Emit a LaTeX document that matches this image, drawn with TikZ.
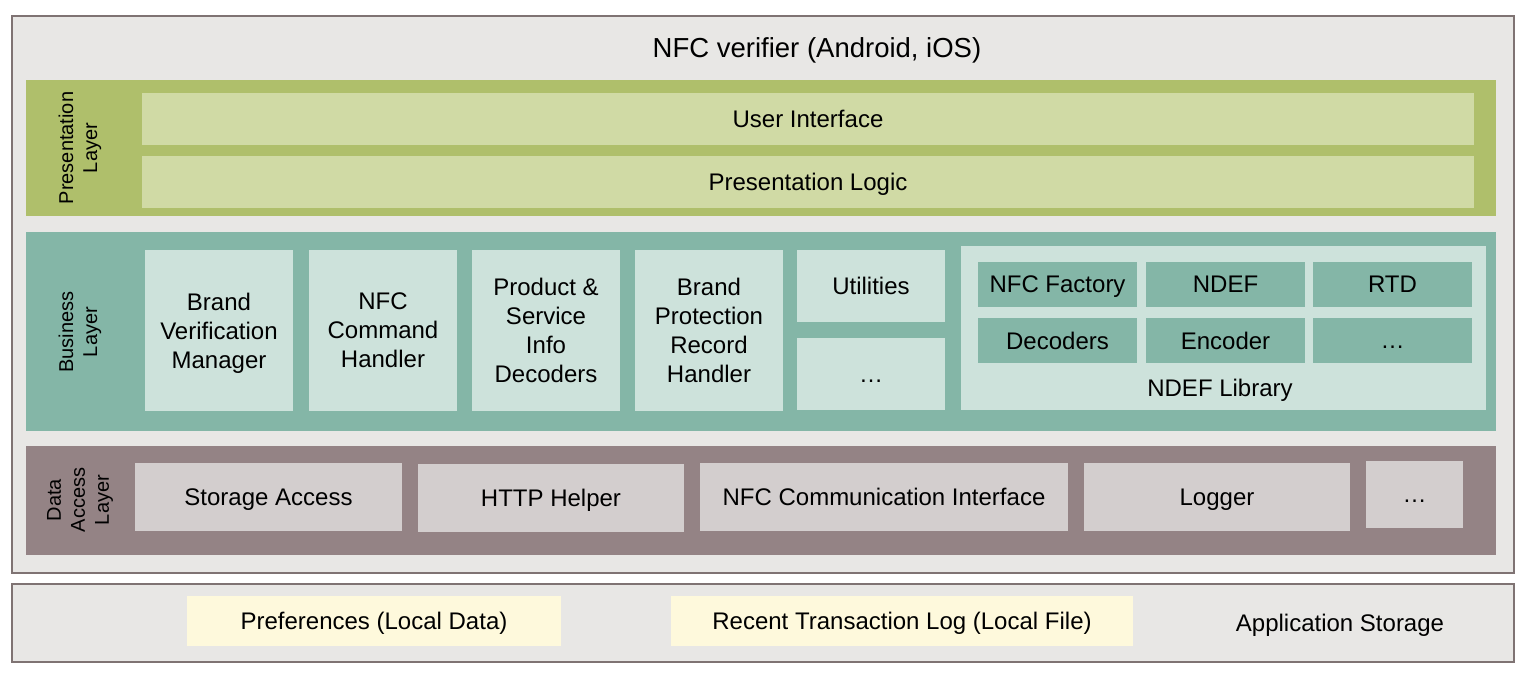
\documentclass[tikz,border=0pt]{standalone}
\usepackage{fontspec}
\setmainfont{Liberation Sans}
\definecolor{outerfill}{HTML}{E8E7E5}
\definecolor{outerdraw}{HTML}{7F7373}
\definecolor{presband}{HTML}{AFBF6B}
\definecolor{presinner}{HTML}{D0DAA5}
\definecolor{busband}{HTML}{84B6A7}
\definecolor{businner}{HTML}{CDE2DB}
\definecolor{databand}{HTML}{948385}
\definecolor{datainner}{HTML}{D3CECE}
\definecolor{yel}{HTML}{FEF9DC}
\newcommand\bx[7]{%
  \node[#6, minimum width={#4pt-#2pt}, minimum height={#5pt-#3pt}] (#1) at ({(#2+#4)/2},{(#3+#5)/2}) {#7};}
\newcommand\dotsx{\vphantom{A}\ldots}
\begin{document}
\begin{tikzpicture}[x=1pt,y=-1pt,
  base/.style={rectangle, inner sep=0pt, outer sep=0pt, align=center, text depth=0pt, font=\fontsize{24}{29}\selectfont},
  outerbox/.style={base, fill=outerfill, draw=outerdraw, line width=2pt},
  pband/.style={base, fill=presband},
  pinner/.style={base, fill=presinner},
  bband/.style={base, fill=busband},
  binner/.style={base, fill=businner},
  ndefbox/.style={base, fill=busband},
  dband/.style={base, fill=databand},
  dinner/.style={base, fill=datainner},
  ybox/.style={base, fill=yel},
  side/.style={inner sep=0pt, align=center, rotate=90, font=\fontsize{20}{24}\selectfont},
  txt/.style={inner sep=0pt, align=center, text depth=0pt, font=\fontsize{24}{29}\selectfont}]
\useasboundingbox (0,0) rectangle (1530,679);
% outer containers
\bx{app}{12}{16}{1514}{573}{outerbox}{}
\bx{store}{12}{584}{1514}{662}{outerbox}{}
\node[txt, font=\fontsize{27.5}{32}\selectfont] (title) at (817,48) {NFC verifier (Android, iOS)};
% presentation layer
\bx{pres}{26}{80}{1496}{216}{pband}{}
\node[side] (preslbl) at (80,148) {Presentation\\Layer};
\bx{ui}{142}{93}{1474}{145}{pinner}{User Interface}
\bx{plogic}{142}{156}{1474}{208}{pinner}{Presentation Logic}
% business layer
\bx{bus}{26}{232}{1496}{431}{bband}{}
\node[side] (buslbl) at (80,332) {Business\\Layer};
\bx{bvm}{145}{250}{293}{411}{binner}{Brand\\Verification\\Manager}
\bx{nfcch}{309}{250}{457}{411}{binner}{NFC\\Command\\Handler}
\bx{psid}{472}{250}{620}{411}{binner}{Product \&\\Service\\Info\\Decoders}
\bx{bprh}{635}{250}{783}{411}{binner}{Brand\\Protection\\Record\\Handler}
\bx{util}{797}{250}{945}{322}{binner}{Utilities}
\bx{bdots}{797}{338}{945}{410}{binner}{\dotsx}
\bx{ndeflib}{961}{246}{1486}{410}{binner}{}
\bx{nfcfac}{978}{262}{1137}{307}{ndefbox}{NFC Factory}
\bx{ndef}{1146}{262}{1305}{307}{ndefbox}{NDEF}
\bx{rtd}{1313}{262}{1472}{307}{ndefbox}{RTD}
\bx{dec}{978}{318}{1137}{363}{ndefbox}{Decoders}
\bx{enc}{1146}{318}{1305}{363}{ndefbox}{Encoder}
\bx{ndots}{1313}{318}{1472}{363}{ndefbox}{\dotsx}
\node[txt] (ndeflbl) at (1220,388) {NDEF Library};
% data access layer
\bx{data}{26}{446}{1496}{555}{dband}{}
\node[side] (datalbl) at (80,500) {Data\\Access\\Layer};
\bx{sacc}{135}{463}{402}{531}{dinner}{Storage Access}
\bx{http}{418}{464}{684}{532}{dinner}{HTTP Helper}
\bx{nfcci}{700}{463}{1068}{531}{dinner}{NFC Communication Interface}
\bx{logger}{1084}{463}{1350}{531}{dinner}{Logger}
\bx{ddots}{1366}{461}{1463}{528}{dinner}{\dotsx}
% application storage
\bx{prefs}{187}{596}{561}{646}{ybox}{Preferences (Local Data)}
\bx{rtl}{671}{596}{1133}{646}{ybox}{Recent Transaction Log (Local File)}
\node[txt] (appstore) at (1340,623) {Application Storage};
\end{tikzpicture}
\end{document}
